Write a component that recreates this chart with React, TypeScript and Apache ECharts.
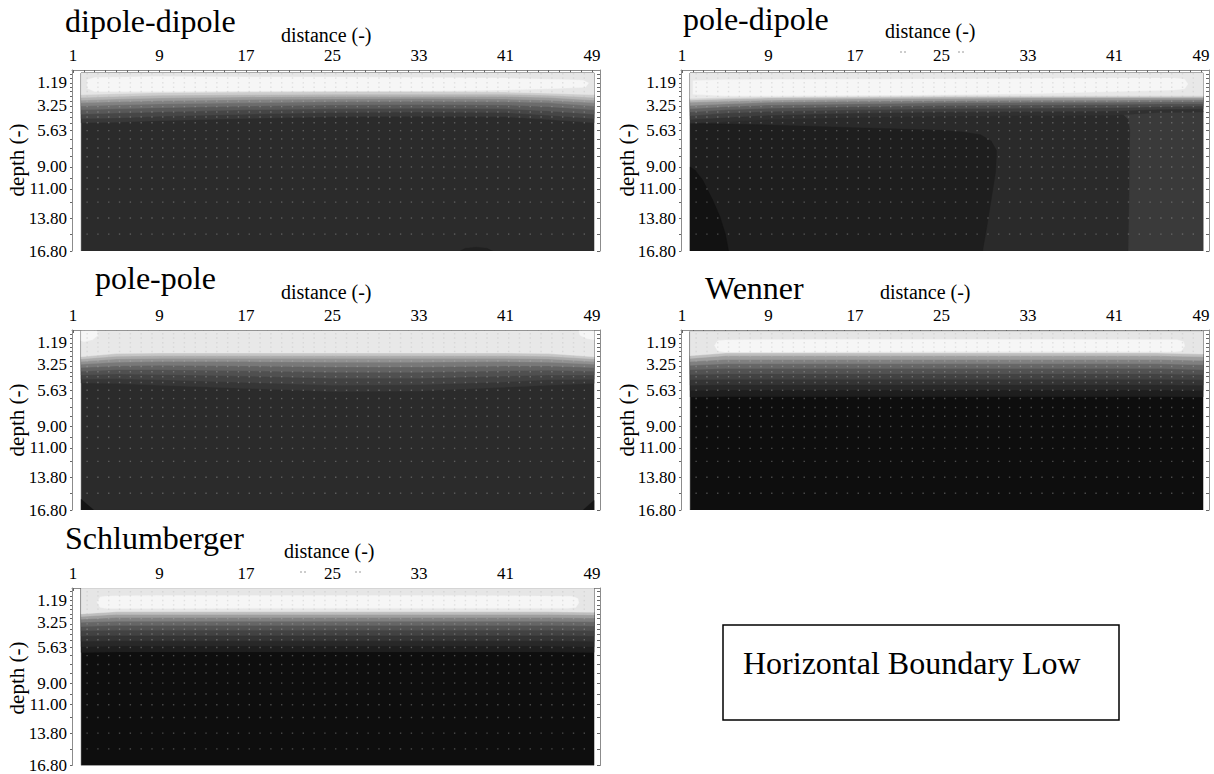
import React, { useEffect, useRef } from "react";
import * as echarts from "echarts";

const FONT = '"Liberation Serif", "DejaVu Serif", serif';

// ---------- data ----------
const panelTitles = ["dipole-dipole", "pole-dipole", "pole-pole", "Wenner", "Schlumberger"];
const boxText = "Horizontal Boundary Low";
const xAxisName = "distance (-)";
const yAxisName = "depth (-)";

const xLabelValues = [1, 9, 17, 25, 33, 41, 49];
const xTickValues = [1, 2, 3, 4, 5, 6, 7, 8, 9, 10, 11, 12, 13, 14, 15, 16, 17, 18, 19, 20, 21, 22, 23, 24, 25,
  26, 27, 28, 29, 30, 31, 32, 33, 34, 35, 36, 37, 38, 39, 40, 41, 42, 43, 44, 45, 46, 47, 48, 49];
const depthLabelValues = [1.19, 3.25, 5.63, 9.0, 11.0, 13.8, 16.8];

// measurement points (grey dots)
const dotColumns = [2.3, 3.3, 4.3, 5.3, 6.3, 7.3, 8.3, 9.3, 10.3, 11.3, 12.3, 13.3, 14.3, 15.3, 16.3, 17.3,
  18.3, 19.3, 20.3, 21.3, 22.3, 23.3, 24.3, 25.3, 26.3, 27.3, 28.3, 29.3, 30.3, 31.3, 32.3, 33.3, 34.3,
  35.3, 36.3, 37.3, 38.3, 39.3, 40.3, 41.3, 42.3, 43.3, 44.3, 45.3, 46.3, 47.3, 48.3];
const dotRows = [0.35, 0.75, 1.19, 1.6, 2.0, 2.45, 2.9, 3.4, 3.9, 4.36, 4.9, 5.63, 6.4, 7.24, 8.05, 9.0,
  10.03, 11.05, 12.26, 13.74, 15.23];

// field extent
const fieldLeft = 1.75;
const fieldRight = 49.2;
const fieldBottom = 16.8;
const fieldTop = [0.28, 0.28, 0.1, 0.15, 0.05];

// contour nodes along distance
const xNodes = [1.75, 5, 9, 17, 25, 33, 41, 45, 49.2];

// background (deep) grey level of each panel
const backgroundGray = [43, 42, 43, 14, 14];

// contour lines (deep -> shallow): depth at each xNode, and grey level above it
const dipoleDipoleGrays = [56, 70, 88, 108, 130, 155, 180, 205, 230];
const dipoleDipoleContours = [
  [4.9, 4.85, 4.7, 4.5, 4.35, 4.3, 4.35, 4.6, 4.9],
  [4.5, 4.45, 4.3, 4.1, 3.95, 3.9, 3.95, 4.2, 4.5],
  [4.1, 4.0, 3.9, 3.7, 3.6, 3.55, 3.6, 3.8, 4.1],
  [3.7, 3.6, 3.5, 3.35, 3.25, 3.2, 3.25, 3.4, 3.7],
  [3.35, 3.25, 3.15, 3.05, 2.95, 2.9, 2.95, 3.05, 3.35],
  [3.05, 2.95, 2.85, 2.75, 2.7, 2.65, 2.7, 2.8, 3.05],
  [2.8, 2.7, 2.6, 2.5, 2.45, 2.45, 2.45, 2.55, 2.8],
  [2.55, 2.45, 2.35, 2.3, 2.25, 2.25, 2.25, 2.35, 2.55],
  [2.3, 2.2, 2.1, 2.05, 2.0, 2.0, 2.05, 2.15, 2.3],
];

const poleDipoleGrays = [48, 62, 78, 98, 122, 150, 180, 210, 232];
const poleDipoleContours = [
  [4.95, 4.8, 4.6, 4.4, 4.3, 4.25, 4.2, 3.95, 3.9],
  [4.6, 4.4, 4.2, 4.0, 3.9, 3.85, 3.8, 3.65, 3.6],
  [4.25, 4.0, 3.85, 3.7, 3.6, 3.55, 3.5, 3.4, 3.35],
  [3.9, 3.7, 3.55, 3.4, 3.3, 3.25, 3.2, 3.15, 3.15],
  [3.6, 3.4, 3.25, 3.15, 3.05, 3.0, 3.0, 2.95, 2.95],
  [3.3, 3.15, 3.0, 2.9, 2.85, 2.8, 2.8, 2.75, 2.75],
  [3.0, 2.9, 2.8, 2.7, 2.65, 2.6, 2.6, 2.6, 2.6],
  [2.8, 2.7, 2.6, 2.55, 2.5, 2.5, 2.5, 2.5, 2.5],
  [2.65, 2.55, 2.5, 2.45, 2.4, 2.4, 2.4, 2.4, 2.4],
];

const polePoleGrays = [54, 66, 80, 98, 120, 145, 170, 198, 232];
const polePoleContours = [
  [4.95, 5.0, 5.15, 5.45, 5.75, 5.7, 5.35, 5.15, 5.0],
  [4.6, 4.55, 4.65, 4.9, 5.15, 5.1, 4.85, 4.65, 4.6],
  [4.2, 4.1, 4.15, 4.3, 4.5, 4.5, 4.3, 4.2, 4.2],
  [3.85, 3.7, 3.7, 3.8, 3.95, 3.95, 3.8, 3.75, 3.85],
  [3.5, 3.35, 3.3, 3.35, 3.45, 3.45, 3.35, 3.35, 3.5],
  [3.2, 3.0, 2.95, 2.95, 3.0, 3.0, 2.95, 3.0, 3.2],
  [2.95, 2.7, 2.65, 2.65, 2.65, 2.65, 2.65, 2.7, 2.95],
  [2.7, 2.45, 2.4, 2.4, 2.4, 2.4, 2.4, 2.45, 2.7],
  [2.5, 2.2, 2.15, 2.15, 2.15, 2.15, 2.15, 2.2, 2.5],
];

const wennerGrays = [30, 40, 52, 66, 82, 102, 128, 158, 190, 230];
const wennerContours = [
  [6.25, 6.2, 6.2, 6.2, 6.2, 6.2, 6.2, 6.2, 6.25],
  [5.65, 5.6, 5.6, 5.6, 5.6, 5.6, 5.6, 5.6, 5.65],
  [5.15, 5.1, 5.1, 5.1, 5.1, 5.1, 5.1, 5.1, 5.15],
  [4.65, 4.6, 4.6, 4.6, 4.6, 4.6, 4.6, 4.6, 4.65],
  [4.15, 4.1, 4.1, 4.1, 4.1, 4.1, 4.1, 4.1, 4.15],
  [3.7, 3.6, 3.6, 3.6, 3.6, 3.6, 3.6, 3.6, 3.7],
  [3.3, 3.15, 3.15, 3.15, 3.15, 3.15, 3.15, 3.15, 3.25],
  [2.95, 2.75, 2.75, 2.75, 2.75, 2.75, 2.75, 2.75, 2.85],
  [2.65, 2.4, 2.4, 2.4, 2.4, 2.4, 2.4, 2.4, 2.5],
  [2.4, 2.15, 2.15, 2.15, 2.15, 2.15, 2.15, 2.15, 2.25],
];

const schlumbergerGrays = [30, 40, 52, 66, 82, 102, 128, 158, 190, 230];
const schlumbergerContours = [
  [6.1, 6.05, 6.05, 6.05, 6.05, 6.05, 6.05, 6.05, 6.1],
  [5.55, 5.5, 5.5, 5.5, 5.5, 5.5, 5.5, 5.5, 5.55],
  [5.05, 5.0, 5.0, 5.0, 5.0, 5.0, 5.0, 5.0, 5.05],
  [4.55, 4.5, 4.5, 4.5, 4.5, 4.5, 4.5, 4.5, 4.55],
  [4.05, 4.0, 4.0, 4.0, 4.0, 4.0, 4.0, 4.0, 4.05],
  [3.65, 3.55, 3.55, 3.55, 3.55, 3.55, 3.55, 3.55, 3.6],
  [3.25, 3.15, 3.15, 3.15, 3.15, 3.15, 3.15, 3.15, 3.2],
  [2.95, 2.8, 2.8, 2.8, 2.8, 2.8, 2.8, 2.8, 2.85],
  [2.7, 2.5, 2.5, 2.5, 2.5, 2.5, 2.5, 2.5, 2.55],
  [2.45, 2.25, 2.25, 2.25, 2.25, 2.25, 2.25, 2.25, 2.3],
];

// zones below the transition (grey level + outline in [distance, depth])
const dipoleDipoleDeepZones = [
  { gray: 32, pts: [[36.8, 16.8], [37.3, 16.55], [38.3, 16.45], [39.3, 16.55], [39.8, 16.8]] },
];
const poleDipoleDeepZones = [
  { gray: 30, pts: [[1.75, 4.95], [9, 5.1], [17, 5.35], [22, 5.5], [25, 5.6], [27, 5.75], [28.6, 6.0],
    [29.6, 6.6], [30.1, 7.5], [30.0, 9.5], [29.6, 12], [29.2, 14.5], [28.8, 16.8], [1.75, 16.8]] },
  { gray: 58, pts: [[40.5, 3.9], [41.8, 4.1], [42.3, 4.6], [42.45, 5.5], [42.4, 10], [42.3, 16.8],
    [49.2, 16.8], [49.2, 3.8]] },
  { gray: 18, pts: [[1.75, 9.0], [2.2, 9.3], [2.9, 10.2], [3.8, 12.0], [4.5, 13.6], [5.0, 15.2],
    [5.3, 16.8], [1.75, 16.8]] },
];
const polePoleDeepZones = [
  { gray: 20, pts: [[1.75, 15.8], [2.9, 16.8], [1.75, 16.8]] },
  { gray: 22, pts: [[48.2, 16.8], [49.2, 15.9], [49.2, 16.8]] },
];

// brightest zones near the surface
const dipoleDipoleSurfaceZones = [
  { gray: 246, pts: [[2.3, 0.9], [3, 0.7], [9, 0.6], [17, 0.65], [25, 0.65], [33, 0.7], [41, 0.75],
    [45, 0.85], [48.2, 0.95], [48.7, 1.2], [48.4, 1.6], [45, 1.75], [41, 1.85], [33, 1.95], [25, 1.95],
    [17, 1.95], [9, 2.0], [3, 2.0], [2.3, 1.7]] },
];
const poleDipoleSurfaceZones = [
  { gray: 246, pts: [[2.0, 1.0], [5, 0.9], [17, 0.85], [33, 0.8], [41, 0.75], [46.5, 0.75], [47.5, 0.85],
    [47.8, 1.3], [47.5, 1.75], [46.5, 1.85], [41, 2.0], [33, 2.2], [25, 2.3], [17, 2.35], [9, 2.4],
    [5, 2.4], [2.0, 2.25]] },
];
const polePoleSurfaceZones = [
  { gray: 246, pts: [[1.75, 0.1], [3.2, 0.1], [3.3, 0.5], [2.8, 0.9], [2.0, 1.1], [1.75, 1.0]] },
  { gray: 246, pts: [[47.8, 0.1], [49.2, 0.1], [49.2, 0.9], [48.5, 0.8], [47.9, 0.5]] },
];
const wennerSurfaceZones = [
  { gray: 246, pts: [[4.0, 1.45], [4.3, 1.0], [5, 0.93], [9, 0.9], [17, 0.88], [25, 0.88], [33, 0.88],
    [41, 0.9], [46.8, 0.92], [47.4, 1.1], [47.5, 1.5], [47.2, 1.95], [46.5, 2.02], [41, 2.0], [33, 2.0],
    [25, 2.0], [17, 2.02], [9, 2.05], [5, 2.05], [4.3, 1.95]] },
];
const schlumbergerSurfaceZones = [
  { gray: 246, pts: [[3.2, 1.3], [3.5, 0.85], [4.2, 0.75], [9, 0.72], [17, 0.72], [25, 0.72], [33, 0.72],
    [41, 0.74], [47.2, 0.78], [47.7, 1.0], [47.8, 1.4], [47.5, 1.85], [46.8, 1.92], [41, 1.92], [33, 1.92],
    [25, 1.92], [17, 1.92], [9, 1.95], [4.2, 1.95], [3.5, 1.85]] },
];

// ---------- assembling ----------
type Zone = { gray: number; pts: number[][] };

const panelFields = [
  { grays: dipoleDipoleGrays, contours: dipoleDipoleContours, deep: dipoleDipoleDeepZones, surface: dipoleDipoleSurfaceZones },
  { grays: poleDipoleGrays, contours: poleDipoleContours, deep: poleDipoleDeepZones, surface: poleDipoleSurfaceZones },
  { grays: polePoleGrays, contours: polePoleContours, deep: polePoleDeepZones, surface: polePoleSurfaceZones },
  { grays: wennerGrays, contours: wennerContours, deep: [] as Zone[], surface: wennerSurfaceZones },
  { grays: schlumbergerGrays, contours: schlumbergerContours, deep: [] as Zone[], surface: schlumbergerSurfaceZones },
];

const gridBoxes = [
  { left: 72, top: 70, width: 528, height: 181 },
  { left: 681, top: 70, width: 528, height: 181 },
  { left: 72, top: 330, width: 528, height: 180 },
  { left: 681, top: 330, width: 528, height: 180 },
  { left: 72, top: 588, width: 528, height: 179 },
];

const titlePos = [[65, 21], [683, 19], [95, 278], [705, 288], [65, 538]];
const distNamePos = [[281, 35], [885, 31], [281, 292], [880, 292], [284, 551]];
const depthNamePos = [[17, 160], [627, 160], [17, 420], [627, 420], [17, 678]];

const gray = (g: number) => `rgb(${g},${g},${g})`;

function buildLayers(i: number): Zone[] {
  const f = panelFields[i];
  const top = fieldTop[i];
  const n = xNodes.length;
  const layers: Zone[] = [];
  layers.push({
    gray: backgroundGray[i],
    pts: [[fieldLeft, top], [fieldRight, top], [fieldRight, fieldBottom], [fieldLeft, fieldBottom]],
  });
  f.deep.forEach((z) => layers.push(z));
  f.contours.forEach((d, k) => {
    const pts: number[][] = [[xNodes[0], top], [xNodes[n - 1], top]];
    for (let j = n - 1; j >= 0; j--) pts.push([xNodes[j], d[j]]);
    layers.push({ gray: f.grays[k], pts });
  });
  f.surface.forEach((z) => layers.push(z));
  return layers;
}

const dotData: number[][] = [];
dotColumns.forEach((x) => dotRows.forEach((d) => dotData.push([x, d])));

function buildOption() {
  const grid: any[] = [];
  const xAxis: any[] = [];
  const yAxis: any[] = [];
  const series: any[] = [];
  const graphic: any[] = [];
  const axisColor = "#8c8c8c";

  gridBoxes.forEach((b, i) => {
    grid.push({ ...b, containLabel: false });
    xAxis.push({
      gridIndex: i,
      type: "value",
      position: "top",
      min: 0.9,
      max: 49.75,
      axisLine: { show: true, onZero: false, lineStyle: { color: axisColor, width: 1 } },
      axisTick: { show: true, inside: true, length: 3, customValues: xTickValues, lineStyle: { color: "#666" } },
      axisLabel: {
        show: true,
        customValues: xLabelValues,
        fontFamily: FONT,
        fontSize: 17,
        color: "#000",
        margin: 6,
      },
      splitLine: { show: false },
    });
    yAxis.push({
      gridIndex: i,
      type: "value",
      position: "left",
      inverse: true,
      min: 0,
      max: 16.8,
      axisLine: { show: true, onZero: false, lineStyle: { color: axisColor, width: 1 } },
      axisTick: { show: true, inside: false, length: 2, customValues: dotRows.concat([16.8]), lineStyle: { color: "#666" } },
      axisLabel: {
        show: true,
        customValues: depthLabelValues,
        formatter: (v: number) => v.toFixed(2),
        fontFamily: FONT,
        fontSize: 17,
        color: "#000",
        margin: 5,
      },
      splitLine: { show: false },
    });
    yAxis.push({
      gridIndex: i,
      type: "value",
      position: "right",
      inverse: true,
      min: 0,
      max: 16.8,
      axisLine: { show: true, onZero: false, lineStyle: { color: axisColor, width: 1 } },
      axisTick: { show: true, inside: true, length: 3, customValues: dotRows.concat([16.8]), lineStyle: { color: "#666" } },
      axisLabel: { show: false },
      splitLine: { show: false },
    });

    const layers = buildLayers(i);
    series.push({
      type: "custom",
      coordinateSystem: "cartesian2d",
      xAxisIndex: i,
      yAxisIndex: 2 * i,
      silent: true,
      clip: true,
      z: 1,
      encode: { x: 0, y: 1 },
      data: layers.map((l, k) => [l.pts[0][0], l.pts[0][1], k]),
      renderItem: (params: any, api: any) => {
        const layer = layers[params.dataIndex];
        const points = layer.pts.map((p) => api.coord(p));
        return {
          type: "polygon",
          shape: { points },
          style: { fill: gray(layer.gray), stroke: gray(layer.gray), lineWidth: 0.4 },
          silent: true,
        };
      },
    });
    series.push({
      type: "scatter",
      xAxisIndex: i,
      yAxisIndex: 2 * i,
      silent: true,
      z: 3,
      symbol: "rect",
      symbolSize: 1.4,
      itemStyle: { color: "rgba(185,185,185,0.45)" },
      data: dotData,
    });

    graphic.push({
      type: "text",
      x: titlePos[i][0],
      y: titlePos[i][1],
      style: { text: panelTitles[i], font: `32px ${FONT}`, fill: "#000", align: "left", verticalAlign: "middle" },
    });
    graphic.push({
      type: "text",
      x: distNamePos[i][0],
      y: distNamePos[i][1],
      style: { text: xAxisName, font: `20px ${FONT}`, fill: "#000", align: "left", verticalAlign: "middle" },
    });
    graphic.push({
      type: "text",
      x: depthNamePos[i][0],
      y: depthNamePos[i][1],
      rotation: Math.PI / 2,
      style: { text: yAxisName, font: `21px ${FONT}`, fill: "#000", align: "center", verticalAlign: "middle" },
    });
  });

  // faint marks beside some distance labels
  const marks = [[900, 52], [958, 52], [300, 572], [355, 572]];
  marks.forEach(([x, y]) => {
    graphic.push({
      type: "line",
      shape: { x1: x, y1: y, x2: x + 8, y2: y },
      style: { stroke: "#9a9a9a", lineWidth: 1, lineDash: [2, 2] },
    });
  });

  graphic.push({
    type: "rect",
    shape: { x: 723, y: 625, width: 396, height: 95 },
    style: { fill: "rgba(0,0,0,0)", stroke: "#000", lineWidth: 1.5 },
  });
  graphic.push({
    type: "text",
    x: 743,
    y: 663,
    style: { text: boxText, font: `32px ${FONT}`, fill: "#000", align: "left", verticalAlign: "middle" },
  });

  return {
    animation: false,
    backgroundColor: "#ffffff",
    textStyle: { fontFamily: FONT },
    grid,
    xAxis,
    yAxis,
    series,
    graphic,
  };
}

export default function App() {
  const ref = useRef<HTMLDivElement>(null);
  useEffect(() => {
    if (!ref.current) return;
    const chart = echarts.init(ref.current, undefined, { renderer: "svg" });
    chart.setOption(buildOption() as any);
    return () => chart.dispose();
  }, []);
  return (
    <div
      ref={ref}
      style={{ position: "absolute", left: 0, top: 0, width: 1214, height: 774, background: "#fff" }}
    />
  );
}
